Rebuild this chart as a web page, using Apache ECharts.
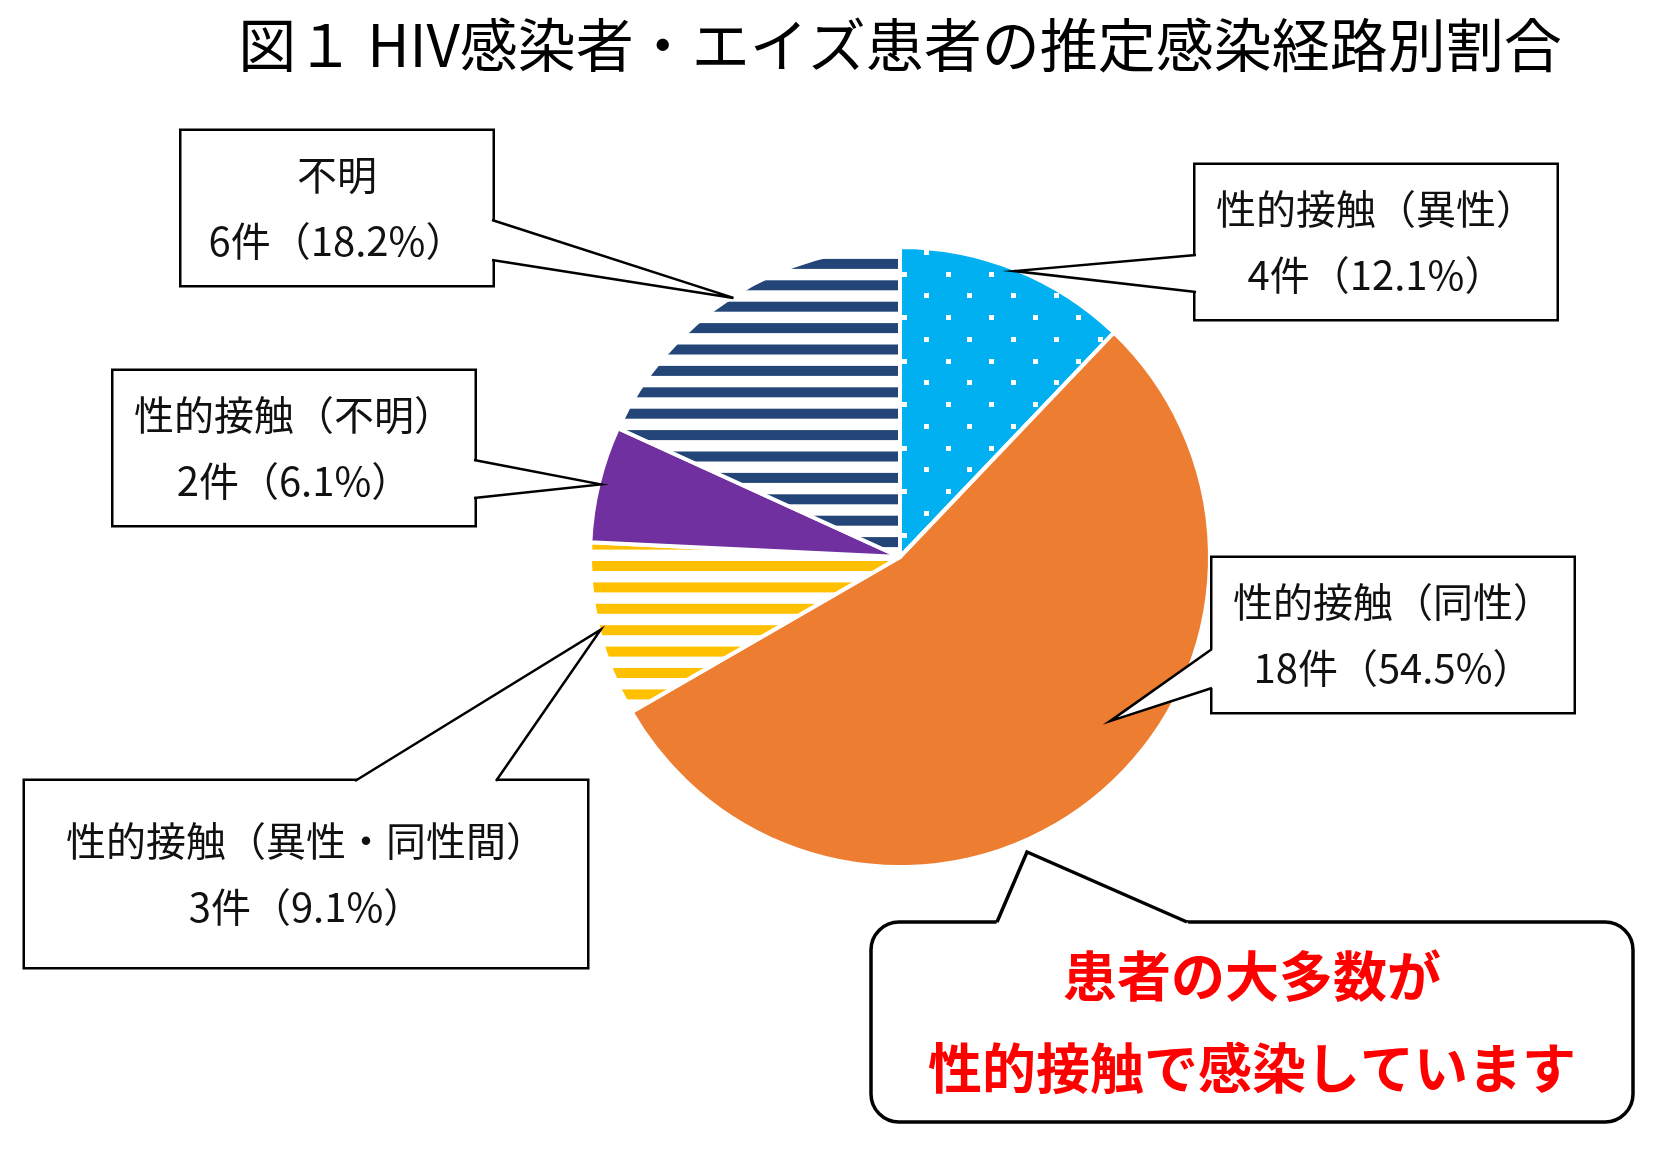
<!DOCTYPE html>
<html>
<head>
<meta charset="utf-8">
<script src="https://cdn.jsdelivr.net/npm/echarts@6/dist/echarts.min.js"></script>
<style>
  html, body { margin: 0; padding: 0; background: #fff; }
  #container { width: 1664px; height: 1150px; }
</style>
</head>
<body>
<div id="container"></div>
<script>
// data
var titleText = '図１ HIV感染者・エイズ患者の推定感染経路別割合';
var categories = ['性的接触（異性）', '性的接触（同性）', '性的接触（異性・同性間）', '性的接触（不明）', '不明'];
var counts = [4, 18, 3, 2, 6];
var noteLines = ['患者の大多数が', '性的接触で感染しています'];

var FONT = '"Noto Sans CJK JP", "Noto Sans", sans-serif';
var CX = 900, CY = 557, R = 310;

// callout boxes (layout only): centre, width, padding, wedge base points
var boxes = [
  { cx: 1376, cy: 242, w: 361, pad: [8, 0, 14, 0], a: [1196, 255], b: [1196, 292] },
  { cx: 1393, cy: 635, w: 361, pad: [8, 0, 14, 0], a: [1212, 649], b: [1212, 688], tip: { angle: 128, r: 0.86 } },
  { cx: 306, cy: 874, w: 562, pad: [26, 0, 28, 0], a: [355, 781], b: [496, 781] },
  { cx: 294, cy: 448, w: 361, pad: [8, 0, 14, 0], a: [474, 460], b: [474, 498] },
  { cx: 337, cy: 208, w: 311, pad: [8, 0, 14, 0], a: [492, 220], b: [492, 260] }
];

// pattern tiles
function stripes(color, offset) {
  var c = document.createElement('canvas');
  c.width = 8; c.height = 107;
  var ctx = c.getContext('2d');
  ctx.fillStyle = '#fff';
  ctx.fillRect(0, 0, 8, 107);
  ctx.fillStyle = color;
  for (var k = -1; k < 6; k++) {
    ctx.fillRect(0, offset + k * 21.4, 8, 10);
  }
  return c;
}
function dots() {
  var c = document.createElement('canvas');
  c.width = 87; c.height = 87;
  var ctx = c.getContext('2d');
  ctx.fillStyle = '#00B0F0';
  ctx.fillRect(0, 0, 87, 87);
  ctx.fillStyle = '#fff';
  for (var r = 0; r < 4; r++) {
    for (var q = 0; q < 4; q++) {
      if ((r + q) % 2 === 1) {
        ctx.fillRect(Math.round(12.95 + q * 21.75 - 2.5), Math.round(13.1 + r * 21.75 - 2.5), 5, 5);
      }
    }
  }
  return c;
}

var fills = [
  { image: dots(), repeat: 'repeat' },
  '#ED7D31',
  { image: stripes('#FFC000', 4.6), repeat: 'repeat' },
  '#7030A0',
  { image: stripes('#234578', 2.1), repeat: 'repeat' }
];

// mid angle of each slice (degrees clockwise from 12 o'clock)
var total = counts.reduce(function (s, v) { return s + v; }, 0);
var acc = 0;
var midAngles = counts.map(function (v) {
  var m = (acc + v / 2) / total * 360;
  acc += v;
  return m;
});

function tipPoint(i) {
  var ang = midAngles[i], rr = R - 2;
  if (boxes[i].tip) { ang = boxes[i].tip.angle; rr = R * boxes[i].tip.r; }
  var rad = ang * Math.PI / 180;
  return [CX + rr * Math.sin(rad), CY - rr * Math.cos(rad)];
}

var pieData = categories.map(function (name, i) {
  return {
    name: name,
    value: counts[i],
    itemStyle: { color: fills[i] },
    label: { width: boxes[i].w, padding: boxes[i].pad }
  };
});

// callout wedges: white triangle over the box edge, black sides
var wedges = [];
boxes.forEach(function (b, i) {
  var tip = tipPoint(i);
  var vertical = b.a[0] === b.b[0];
  var dx = vertical ? (b.cx > b.a[0] ? 3 : -3) : 0;
  var dy = vertical ? 0 : (b.cy > b.a[1] ? 3 : -3);
  wedges.push({
    type: 'polygon',
    z: 100,
    shape: { points: [[b.a[0] + dx, b.a[1] + dy], b.a, tip, b.b, [b.b[0] + dx, b.b[1] + dy]] },
    style: { fill: '#fff' }
  });
  wedges.push({
    type: 'polyline',
    z: 101,
    shape: { points: [b.a, tip, b.b] },
    style: { stroke: '#000', lineWidth: 2.5, fill: null }
  });
});

var dom = document.getElementById('container');
var myChart = echarts.init(dom, null, { renderer: 'canvas' });

var option = {
  backgroundColor: '#fff',
  animation: false,
  title: {
    text: titleText,
    left: CX,
    top: 13,
    padding: 0,
    textAlign: 'center',
    textStyle: {
      fontFamily: FONT,
      fontSize: 58,
      fontWeight: 'normal',
      lineHeight: 64,
      color: '#000'
    }
  },
  series: [
    {
      type: 'pie',
      center: [CX, CY],
      radius: R,
      startAngle: 90,
      clockwise: true,
      avoidLabelOverlap: false,
      percentPrecision: 1,
      emphasis: { disabled: true },
      itemStyle: { borderColor: '#fff', borderWidth: 4 },
      label: {
        show: true,
        position: 'outside',
        overflow: 'none',
        formatter: '{b}\n{c}件（{d}%）',
        fontFamily: FONT,
        fontSize: 40,
        lineHeight: 66,
        color: '#111',
        align: 'center',
        backgroundColor: '#fff',
        borderColor: '#000',
        borderWidth: 2.5
      },
      labelLine: { show: false },
      labelLayout: function (params) {
        var b = boxes[params.dataIndex];
        return { x: b.cx, y: b.cy, align: 'center', verticalAlign: 'middle' };
      },
      data: pieData
    }
  ],
  graphic: wedges.concat([
    {
      type: 'rect',
      z: 100,
      shape: { x: 871, y: 922, width: 762, height: 200, r: 28 },
      style: { fill: '#fff', stroke: '#000', lineWidth: 3.5 }
    },
    {
      type: 'polygon',
      z: 101,
      shape: { points: [[995, 927], [997, 922], [1027, 852], [1187, 922], [1191, 927]] },
      style: { fill: '#fff' }
    },
    {
      type: 'polyline',
      z: 102,
      shape: { points: [[997, 922], [1027, 852], [1187, 922]] },
      style: { stroke: '#000', lineWidth: 3.5, fill: null }
    },
    {
      type: 'text',
      z: 103,
      style: {
        text: noteLines[0], x: 1252, y: 976, align: 'center', verticalAlign: 'middle',
        fontFamily: FONT, fontSize: 54, fontWeight: 'bold', fill: '#FF0000'
      }
    },
    {
      type: 'text',
      z: 103,
      style: {
        text: noteLines[1], x: 1252, y: 1068, align: 'center', verticalAlign: 'middle',
        fontFamily: FONT, fontSize: 54, fontWeight: 'bold', fill: '#FF0000'
      }
    }
  ])
};

if (option && typeof option === 'object') {
  myChart.setOption(option, true);
}
</script>
</body>
</html>
